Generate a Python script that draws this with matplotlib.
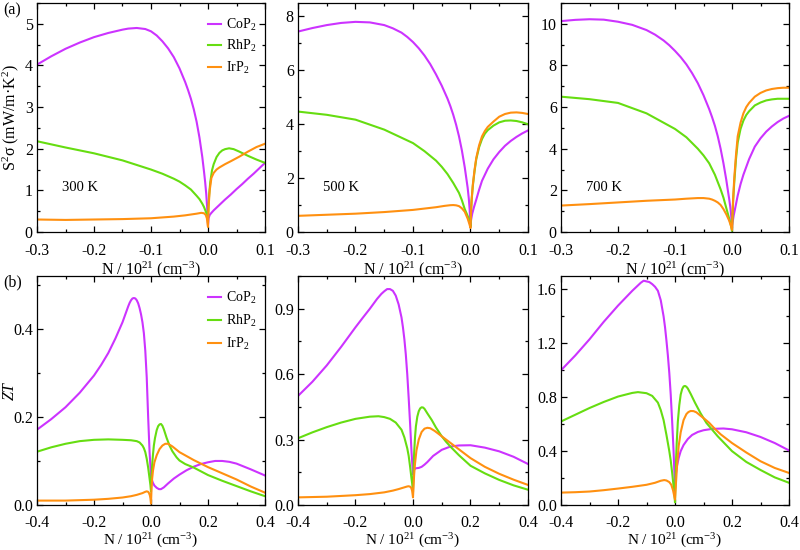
import matplotlib
matplotlib.use("Agg")
import matplotlib.pyplot as plt
from matplotlib.ticker import MultipleLocator, FormatStrFormatter

plt.rcParams['font.family'] = ['Liberation Serif', 'DejaVu Serif']
plt.rcParams['mathtext.fontset'] = 'custom'
plt.rcParams['mathtext.rm'] = 'Liberation Serif'
plt.rcParams['mathtext.it'] = 'Liberation Serif:italic'
plt.rcParams['axes.unicode_minus'] = False

# ---------------- data: power factor S^2 sigma (mW/m K^2) ----------------
co300_x = [-0.3,-0.275,-0.25,-0.225,-0.2,-0.175,-0.15,-0.14,-0.125,-0.11,-0.1,-0.09,-0.08,-0.07,-0.06,-0.05,-0.04,-0.035,-0.03,-0.025,-0.02,-0.015,-0.01,-0.007,-0.005,-0.003,-0.0015,0,0.001,0.003,0.006,0.01,0.02,0.03,0.04,0.05,0.06,0.07,0.08,0.09,0.1]
co300_y = [4.02,4.22,4.4,4.55,4.68,4.78,4.86,4.885,4.9,4.875,4.82,4.72,4.58,4.41,4.2,3.93,3.6,3.41,3.2,2.95,2.65,2.27,1.8,1.45,1.2,0.9,0.6,0.15,0.33,0.41,0.46,0.52,0.65,0.78,0.9,1.03,1.15,1.28,1.4,1.53,1.66]
rh300_x = [-0.3,-0.25,-0.2,-0.15,-0.1,-0.08,-0.06,-0.05,-0.04,-0.03,-0.02,-0.015,-0.01,-0.007,-0.005,-0.003,-0.0015,0,0.001,0.002,0.004,0.007,0.01,0.015,0.02,0.025,0.03,0.037,0.045,0.055,0.07,0.085,0.1]
rh300_y = [2.18,2.03,1.89,1.72,1.5,1.4,1.28,1.21,1.12,1.02,0.87,0.79,0.68,0.6,0.53,0.46,0.4,0.3,0.65,0.9,1.2,1.48,1.63,1.8,1.9,1.96,1.99,2.01,1.99,1.93,1.83,1.74,1.66]
ir300_x = [-0.3,-0.25,-0.2,-0.15,-0.1,-0.06,-0.04,-0.02,-0.012,-0.007,-0.004,-0.002,0,0.001,0.003,0.006,0.01,0.015,0.02,0.03,0.04,0.055,0.07,0.085,0.1]
ir300_y = [0.3,0.29,0.3,0.31,0.33,0.37,0.4,0.44,0.46,0.45,0.41,0.33,0.12,0.6,1.0,1.3,1.42,1.5,1.55,1.63,1.7,1.81,1.93,2.04,2.12]

co500_x = [-0.3,-0.275,-0.25,-0.225,-0.2,-0.175,-0.15,-0.135,-0.12,-0.11,-0.1,-0.09,-0.08,-0.07,-0.06,-0.05,-0.04,-0.035,-0.03,-0.025,-0.02,-0.015,-0.01,-0.007,-0.005,-0.003,-0.0015,0,0.001,0.003,0.006,0.01,0.015,0.02,0.03,0.04,0.05,0.06,0.07,0.08,0.09,0.1]
co500_y = [7.44,7.57,7.68,7.76,7.8,7.78,7.68,7.56,7.4,7.24,7.05,6.82,6.55,6.23,5.85,5.43,4.95,4.67,4.35,3.98,3.55,3.03,2.4,1.95,1.65,1.25,0.85,0.2,0.45,0.68,0.92,1.2,1.57,1.9,2.35,2.7,2.97,3.2,3.38,3.53,3.66,3.77]
rh500_x = [-0.3,-0.25,-0.2,-0.15,-0.1,-0.08,-0.06,-0.05,-0.04,-0.03,-0.02,-0.015,-0.01,-0.007,-0.005,-0.003,-0.0015,0,0.001,0.002,0.004,0.007,0.01,0.015,0.02,0.025,0.03,0.04,0.05,0.06,0.07,0.08,0.09,0.1]
rh500_y = [4.47,4.35,4.17,3.8,3.3,3.0,2.65,2.42,2.15,1.82,1.45,1.18,0.85,0.7,0.6,0.48,0.38,0.2,0.8,1.2,1.7,2.25,2.7,3.15,3.45,3.65,3.78,3.95,4.07,4.13,4.14,4.12,4.07,4.0]
ir500_x = [-0.3,-0.25,-0.2,-0.15,-0.1,-0.06,-0.045,-0.035,-0.03,-0.025,-0.02,-0.015,-0.01,-0.005,-0.002,0,0.001,0.002,0.004,0.007,0.01,0.015,0.02,0.025,0.03,0.04,0.05,0.06,0.07,0.08,0.09,0.1]
ir500_y = [0.6,0.64,0.68,0.74,0.82,0.92,0.97,0.995,1.0,0.99,0.96,0.88,0.75,0.5,0.3,0.15,0.8,1.2,1.75,2.3,2.75,3.22,3.55,3.75,3.9,4.1,4.28,4.38,4.43,4.44,4.42,4.38]

co700_x = [-0.3,-0.275,-0.25,-0.225,-0.2,-0.175,-0.15,-0.135,-0.12,-0.11,-0.1,-0.09,-0.08,-0.07,-0.06,-0.05,-0.04,-0.035,-0.03,-0.025,-0.02,-0.015,-0.01,-0.007,-0.005,-0.003,-0.0015,0,0.001,0.003,0.006,0.01,0.015,0.02,0.03,0.04,0.05,0.06,0.07,0.08,0.09,0.1]
co700_y = [10.13,10.19,10.22,10.2,10.1,9.95,9.7,9.48,9.2,8.97,8.7,8.4,8.05,7.63,7.15,6.57,5.9,5.52,5.1,4.6,4.0,3.3,2.5,1.95,1.6,1.2,0.8,0.2,0.45,0.8,1.2,1.75,2.3,2.75,3.5,4.1,4.5,4.82,5.07,5.28,5.45,5.58]
rh700_x = [-0.3,-0.25,-0.2,-0.15,-0.1,-0.08,-0.06,-0.05,-0.04,-0.03,-0.02,-0.015,-0.01,-0.007,-0.005,-0.003,-0.0015,0,0.001,0.002,0.004,0.007,0.01,0.015,0.02,0.025,0.03,0.04,0.05,0.06,0.07,0.08,0.09,0.1]
rh700_y = [6.5,6.38,6.2,5.7,4.95,4.55,4.0,3.68,3.3,2.75,2.05,1.65,1.15,0.85,0.65,0.45,0.28,0.05,0.8,1.5,2.4,3.5,4.3,4.95,5.35,5.62,5.8,6.08,6.22,6.32,6.37,6.4,6.4,6.4]
ir700_x = [-0.3,-0.25,-0.2,-0.15,-0.1,-0.08,-0.06,-0.05,-0.04,-0.035,-0.03,-0.025,-0.02,-0.015,-0.01,-0.005,-0.002,0,0.001,0.002,0.004,0.007,0.01,0.015,0.02,0.025,0.03,0.04,0.05,0.06,0.07,0.08,0.09,0.1]
ir700_y = [1.27,1.34,1.42,1.5,1.56,1.6,1.63,1.63,1.6,1.56,1.5,1.42,1.3,1.1,0.85,0.55,0.3,0.1,0.9,1.6,2.6,3.7,4.6,5.25,5.7,6.0,6.2,6.5,6.68,6.8,6.87,6.91,6.93,6.93]

# ---------------- data: ZT ----------------
co300z_x = [-0.4,-0.35,-0.3,-0.25,-0.2,-0.175,-0.15,-0.125,-0.1,-0.09,-0.08,-0.075,-0.07,-0.065,-0.06,-0.055,-0.05,-0.045,-0.04,-0.035,-0.03,-0.025,-0.02,-0.015,-0.01,-0.005,0,0.003,0.007,0.012,0.02,0.028,0.035,0.045,0.06,0.08,0.1,0.125,0.15,0.175,0.2,0.225,0.25,0.275,0.3,0.35,0.4]
co300z_y = [0.171,0.195,0.222,0.255,0.294,0.318,0.345,0.378,0.415,0.433,0.451,0.459,0.465,0.469,0.47,0.469,0.465,0.458,0.447,0.433,0.415,0.39,0.35,0.29,0.2,0.12,0.065,0.057,0.05,0.044,0.039,0.036,0.036,0.04,0.049,0.06,0.069,0.079,0.087,0.093,0.097,0.1,0.1,0.098,0.094,0.081,0.067]
rh300z_x = [-0.4,-0.35,-0.3,-0.25,-0.2,-0.15,-0.1,-0.07,-0.05,-0.04,-0.03,-0.025,-0.02,-0.015,-0.01,-0.007,-0.004,-0.002,0,0.002,0.004,0.007,0.01,0.014,0.02,0.025,0.03,0.035,0.04,0.045,0.05,0.055,0.065,0.075,0.09,0.1,0.12,0.15,0.2,0.25,0.3,0.35,0.4]
rh300z_y = [0.121,0.131,0.139,0.145,0.148,0.149,0.148,0.147,0.145,0.142,0.135,0.129,0.12,0.105,0.085,0.07,0.055,0.045,0.03,0.065,0.09,0.115,0.135,0.152,0.17,0.179,0.183,0.184,0.18,0.172,0.162,0.152,0.135,0.122,0.108,0.101,0.093,0.085,0.068,0.055,0.043,0.031,0.02]
ir300z_x = [-0.4,-0.3,-0.2,-0.15,-0.1,-0.07,-0.05,-0.03,-0.02,-0.015,-0.01,-0.007,-0.004,-0.002,0,0.002,0.004,0.007,0.012,0.02,0.03,0.04,0.05,0.06,0.075,0.1,0.125,0.15,0.2,0.25,0.3,0.35,0.4]
ir300z_y = [0.01,0.01,0.012,0.014,0.017,0.02,0.023,0.027,0.03,0.031,0.03,0.027,0.022,0.015,0.003,0.04,0.06,0.078,0.097,0.113,0.127,0.135,0.139,0.139,0.133,0.12,0.111,0.102,0.086,0.072,0.058,0.042,0.028]

co500z_x = [-0.4,-0.35,-0.3,-0.25,-0.2,-0.175,-0.15,-0.125,-0.11,-0.1,-0.09,-0.08,-0.07,-0.06,-0.05,-0.04,-0.035,-0.03,-0.025,-0.02,-0.015,-0.01,-0.005,0,0.003,0.008,0.02,0.03,0.04,0.05,0.07,0.1,0.13,0.16,0.2,0.25,0.3,0.35,0.4]
co500z_y = [0.5,0.565,0.64,0.725,0.815,0.858,0.9,0.945,0.968,0.98,0.99,0.99,0.982,0.96,0.92,0.86,0.815,0.76,0.69,0.6,0.49,0.37,0.24,0.14,0.16,0.168,0.17,0.175,0.185,0.197,0.225,0.253,0.268,0.273,0.274,0.263,0.246,0.221,0.188]
rh500z_x = [-0.4,-0.35,-0.3,-0.25,-0.2,-0.15,-0.12,-0.1,-0.08,-0.06,-0.04,-0.03,-0.02,-0.015,-0.01,-0.006,-0.003,0,0.002,0.004,0.007,0.01,0.015,0.02,0.025,0.03,0.035,0.04,0.05,0.065,0.08,0.1,0.115,0.13,0.16,0.2,0.25,0.3,0.35,0.4]
rh500z_y = [0.306,0.333,0.357,0.378,0.395,0.405,0.407,0.403,0.395,0.378,0.345,0.31,0.26,0.225,0.175,0.13,0.1,0.06,0.16,0.24,0.31,0.36,0.405,0.43,0.443,0.448,0.447,0.441,0.42,0.39,0.355,0.315,0.29,0.268,0.228,0.18,0.145,0.115,0.09,0.07]
ir500z_x = [-0.4,-0.3,-0.2,-0.15,-0.1,-0.07,-0.05,-0.03,-0.02,-0.015,-0.01,-0.006,-0.003,0,0.002,0.004,0.007,0.012,0.02,0.03,0.04,0.05,0.06,0.075,0.1,0.13,0.16,0.2,0.25,0.3,0.35,0.4]
ir500z_y = [0.035,0.038,0.045,0.05,0.058,0.066,0.073,0.081,0.085,0.086,0.084,0.078,0.065,0.035,0.09,0.14,0.19,0.25,0.3,0.335,0.35,0.354,0.352,0.34,0.315,0.285,0.255,0.215,0.175,0.143,0.116,0.092]

co700z_x = [-0.4,-0.35,-0.3,-0.25,-0.2,-0.175,-0.15,-0.13,-0.12,-0.11,-0.1,-0.09,-0.08,-0.07,-0.06,-0.05,-0.04,-0.035,-0.03,-0.025,-0.02,-0.015,-0.01,-0.005,0,0.003,0.007,0.013,0.02,0.03,0.045,0.06,0.08,0.1,0.13,0.17,0.2,0.25,0.3,0.35,0.4]
co700z_y = [1.0,1.11,1.23,1.36,1.48,1.535,1.59,1.63,1.65,1.665,1.66,1.655,1.64,1.62,1.59,1.52,1.4,1.32,1.22,1.11,0.98,0.82,0.62,0.4,0.12,0.23,0.29,0.35,0.4,0.445,0.49,0.52,0.542,0.555,0.565,0.568,0.562,0.54,0.505,0.46,0.405]
rh700z_x = [-0.4,-0.35,-0.3,-0.25,-0.2,-0.15,-0.13,-0.1,-0.08,-0.06,-0.05,-0.04,-0.03,-0.02,-0.015,-0.01,-0.005,-0.002,0,0.002,0.004,0.006,0.01,0.015,0.02,0.025,0.03,0.035,0.04,0.045,0.055,0.07,0.09,0.11,0.13,0.15,0.2,0.25,0.3,0.35,0.4]
rh700z_y = [0.62,0.67,0.72,0.765,0.805,0.832,0.838,0.83,0.81,0.76,0.705,0.63,0.52,0.4,0.33,0.24,0.14,0.08,0.02,0.2,0.35,0.46,0.62,0.74,0.82,0.86,0.88,0.884,0.878,0.865,0.825,0.76,0.68,0.61,0.56,0.51,0.4,0.32,0.26,0.205,0.165]
ir700z_x = [-0.4,-0.35,-0.3,-0.25,-0.2,-0.15,-0.1,-0.07,-0.05,-0.038,-0.03,-0.02,-0.013,-0.007,-0.003,0,0.003,0.008,0.013,0.02,0.03,0.04,0.047,0.055,0.065,0.075,0.09,0.105,0.12,0.14,0.16,0.2,0.25,0.3,0.35,0.4]
ir700z_y = [0.092,0.095,0.1,0.11,0.122,0.135,0.15,0.165,0.18,0.185,0.182,0.17,0.15,0.11,0.07,0.04,0.15,0.32,0.44,0.54,0.63,0.675,0.69,0.698,0.697,0.688,0.662,0.637,0.61,0.565,0.525,0.46,0.39,0.325,0.275,0.238]

materials = ['CoP$_2$', 'RhP$_2$', 'IrP$_2$']
colors = ['#cc33ff', '#66dd11', '#ff9010']
temps = ['300 K', '500 K', '700 K']

top_sets = [
    [(co300_x, co300_y), (rh300_x, rh300_y), (ir300_x, ir300_y)],
    [(co500_x, co500_y), (rh500_x, rh500_y), (ir500_x, ir500_y)],
    [(co700_x, co700_y), (rh700_x, rh700_y), (ir700_x, ir700_y)],
]
bot_sets = [
    [(co300z_x, co300z_y), (rh300z_x, rh300z_y), (ir300z_x, ir300z_y)],
    [(co500z_x, co500z_y), (rh500z_x, rh500z_y), (ir500z_x, ir500z_y)],
    [(co700z_x, co700z_y), (rh700z_x, rh700z_y), (ir700z_x, ir700z_y)],
]
top_ylim = [5.5, 8.5, 11.0]
top_major = [1, 2, 2]
top_minor = [0.5, 1, 1]
bot_ylim = [0.52, 1.05, 1.70]
bot_major = [0.2, 0.3, 0.4]
bot_minor = [0.1, 0.15, 0.2]

W, H = 800, 550
fig = plt.figure(figsize=(8, 5.5), dpi=100)
cols = [(37, 265), (298, 528), (561, 789)]
rows = [(3, 232), (276, 505)]

def make_ax(c, r):
    x0, x1 = cols[c]
    y0, y1 = rows[r]
    return fig.add_axes([x0 / W, 1 - y1 / H, (x1 - x0) / W, (y1 - y0) / H])

def style(ax, xpad):
    ax.tick_params(which='both', direction='in', top=True, right=True, labelsize=11.5)
    ax.tick_params(axis='x', pad=xpad)
    ax.tick_params(axis='y', pad=3)
    ax.tick_params(which='major', length=4.5, width=0.9)
    ax.tick_params(which='minor', length=2.5, width=0.9)
    for s in ax.spines.values():
        s.set_linewidth(0.9)

xlabel = 'N / 10$^{21}$ (cm$^{-3}$)'
leg_kw = dict(loc='upper right', frameon=False, fontsize=10, handlelength=0.95,
              handletextpad=0.35, borderaxespad=0.0, borderpad=0.4)

for c in range(3):
    ax = make_ax(c, 0)
    for (xs, ys), col, lab in zip(top_sets[c], colors, materials):
        ax.plot(xs, ys, color=col, lw=1.5, label=lab, solid_joinstyle='round')
    ax.set_xlim(-0.3, 0.1)
    ax.set_ylim(0, top_ylim[c])
    ax.xaxis.set_major_locator(MultipleLocator(0.1))
    ax.xaxis.set_minor_locator(MultipleLocator(0.05))
    ax.xaxis.set_major_formatter(FormatStrFormatter('%.1f'))
    ax.yaxis.set_major_locator(MultipleLocator(top_major[c]))
    ax.yaxis.set_minor_locator(MultipleLocator(top_minor[c]))
    ax.yaxis.set_major_formatter(FormatStrFormatter('%d'))
    style(ax, 8)
    ax.set_xlabel(xlabel, fontsize=11.5, labelpad=0)
    ax.text(0.11, 0.18, temps[c], transform=ax.transAxes, fontsize=10.5)
    if c == 0:
        ax.set_ylabel('S$^2$σ (mW/m·K$^2$)', fontsize=11.5)
        ax.yaxis.set_label_coords(-0.072, 0.5)
        ax.legend(bbox_to_anchor=(0.985, 0.965), labelspacing=0.4, **leg_kw)

for c in range(3):
    ax = make_ax(c, 1)
    for (xs, ys), col, lab in zip(bot_sets[c], colors, materials):
        ax.plot(xs, ys, color=col, lw=1.5, label=lab, solid_joinstyle='round')
    ax.set_xlim(-0.4, 0.4)
    ax.set_ylim(0, bot_ylim[c])
    ax.xaxis.set_major_locator(MultipleLocator(0.2))
    ax.xaxis.set_minor_locator(MultipleLocator(0.1))
    ax.xaxis.set_major_formatter(FormatStrFormatter('%.1f'))
    ax.yaxis.set_major_locator(MultipleLocator(bot_major[c]))
    ax.yaxis.set_minor_locator(MultipleLocator(bot_minor[c]))
    ax.yaxis.set_major_formatter(FormatStrFormatter('%.1f'))
    style(ax, 7.5)
    ax.set_xlabel(xlabel, fontsize=11, labelpad=0.5)
    if c == 0:
        ax.set_ylabel('$ZT$', fontsize=11.5)
        ax.yaxis.set_label_coords(-0.085, 0.5)
        ax.legend(bbox_to_anchor=(0.985, 0.965), labelspacing=0.5, **leg_kw)

fig.text(3 / W, 1 - 10 / H, '(a)', fontsize=11.5, va='center', ha='left')
fig.text(3 / W, 1 - 282 / H, '(b)', fontsize=11.5, va='center', ha='left')

fig.savefig('out.png', dpi=100)
